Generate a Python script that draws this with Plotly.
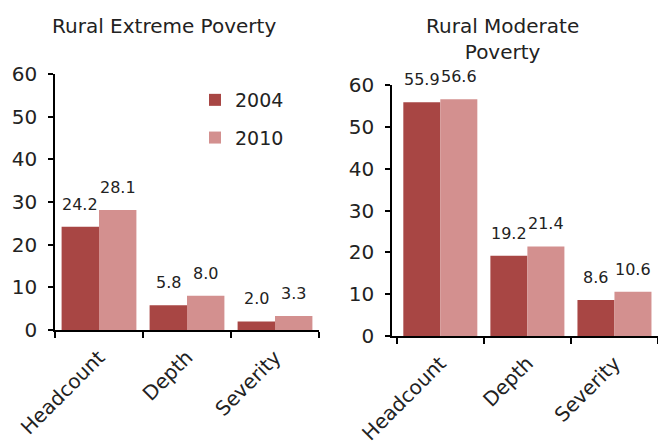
import plotly.graph_objects as go

categories = ["Headcount", "Depth", "Severity"]
years = ["2004", "2010"]
extreme_2004 = [24.2, 5.8, 2.0]
extreme_2010 = [28.1, 8.0, 3.3]
moderate_2004 = [55.9, 19.2, 8.6]
moderate_2010 = [56.6, 21.4, 10.6]
y_ticks = [0, 10, 20, 30, 40, 50, 60]

colors = {"2004": "#A84644", "2010": "#D3908F"}
FONT = "DejaVu Sans"
W, H = 658, 445

fig = go.Figure()
series = [
    ("x", "y", "2004", extreme_2004, True),
    ("x", "y", "2010", extreme_2010, True),
    ("x2", "y2", "2004", moderate_2004, False),
    ("x2", "y2", "2010", moderate_2010, False),
]
for xa, ya, yr, vals, show in series:
    fig.add_trace(go.Bar(
        x=categories, y=vals, name=yr, xaxis=xa, yaxis=ya,
        marker=dict(color=colors[yr], line=dict(width=0)),
        showlegend=show, legendgroup=yr, offsetgroup=yr,
        hoverinfo="skip",
    ))

annotations = []
bar_half = 18.7
for xa, ya, yr, vals, show in series:
    shift = -bar_half if yr == "2004" else bar_half
    for c, v in zip(categories, vals):
        annotations.append(dict(
            x=c, y=v, xref=xa, yref=ya, text=f"{v:.1f}", showarrow=False,
            xshift=shift, yshift=11, yanchor="bottom", xanchor="center",
            font=dict(family=FONT, size=16, color="#222222"),
        ))

annotations.append(dict(x=164 / W, y=1 - 26 / H, xref="paper", yref="paper",
                        xanchor="center", yanchor="middle",
                        text="Rural Extreme Poverty", showarrow=False,
                        font=dict(family=FONT, size=20, color="#222222")))
annotations.append(dict(x=503 / W, y=1 - 39 / H, xref="paper", yref="paper",
                        xanchor="center", yanchor="middle",
                        text="Rural Moderate<br>Poverty", showarrow=False,
                        font=dict(family=FONT, size=20, color="#222222")))

xaxis_common = dict(
    showline=True, linecolor="black", linewidth=1.5, ticks="outside",
    tickson="boundaries", ticklen=6, tickcolor="black", tickwidth=1.5,
    tickangle=-45, tickfont=dict(family=FONT, size=20, color="#222222"),
    ticklabelstandoff=6,
    showgrid=False, zeroline=False, automargin=False,
)
yaxis_common = dict(
    showline=True, linecolor="black", linewidth=1.5, ticks="outside",
    ticklen=5, tickcolor="black", tickwidth=1.5, range=[0, 60],
    tickvals=y_ticks, tickfont=dict(family=FONT, size=20, color="#222222"),
    ticklabelstandoff=7,
    showgrid=False, zeroline=False, automargin=False,
)

fig.update_layout(
    width=W, height=H, margin=dict(l=0, r=0, t=0, b=0, autoexpand=False),
    paper_bgcolor="white", plot_bgcolor="white",
    barmode="group", bargap=0.15, bargroupgap=0,
    xaxis=dict(domain=[55 / W, 319 / W], range=[-0.5, 2.5], anchor="y", **xaxis_common),
    yaxis=dict(domain=[1 - 330 / H, 1 - 74 / H], anchor="x", **yaxis_common),
    xaxis2=dict(domain=[392 / W, 1.0], range=[-0.555, 2.5], anchor="y2", **xaxis_common),
    yaxis2=dict(domain=[1 - 336 / H, 1 - 85 / H], anchor="x2", **yaxis_common),
    legend=dict(x=195 / W, y=1 - 81 / H, xanchor="left", yanchor="top",
                bgcolor="rgba(0,0,0,0)", font=dict(family=FONT, size=19, color="#222222"),
                traceorder="grouped", tracegroupgap=10, itemwidth=30),
    annotations=annotations,
    font=dict(family=FONT),
    hovermode=False,
)

fig.write_html("out.html", config={"displayModeBar": False},
               post_script="document.body.style.margin='0';")
